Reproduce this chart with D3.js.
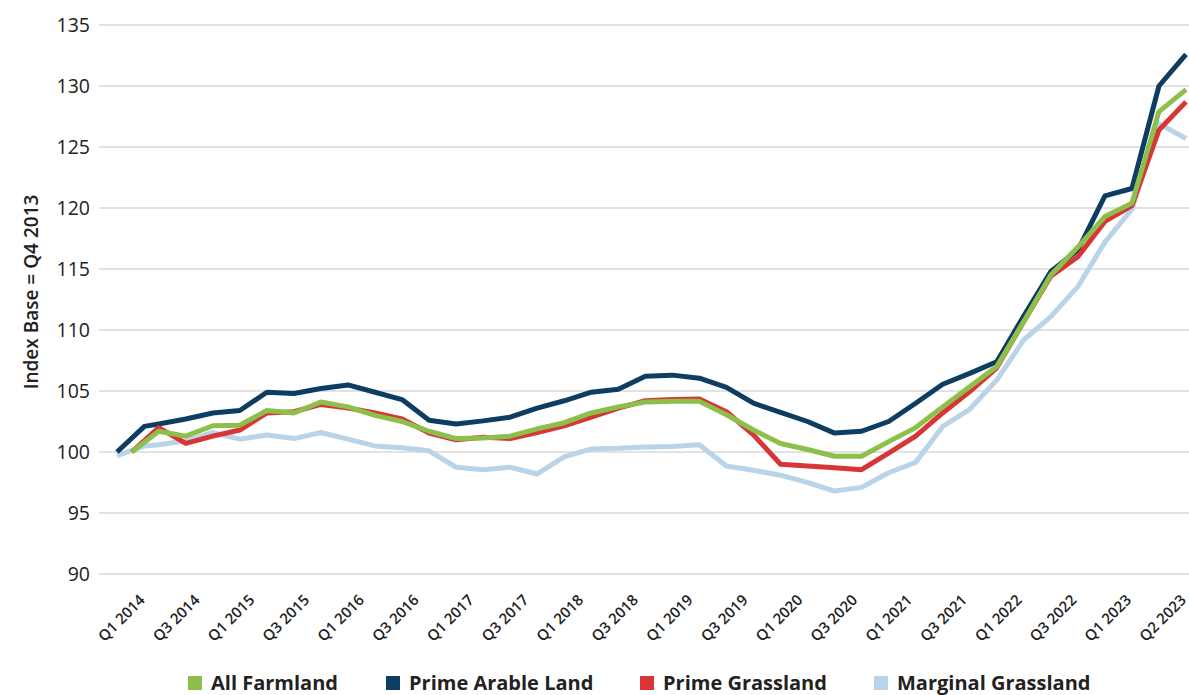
<!DOCTYPE html>
<html>
<head>
<meta charset="utf-8">
<script src="https://cdn.jsdelivr.net/npm/d3@7"></script>
<style>
	html, body { margin: 0; padding: 0; background: #fff; }
	svg { display: block; font-family: "Open Sans", sans-serif; }
</style>
</head>
<body>
<svg id="chart"></svg>
<script>
// x axis labels, one every second quarter
const tickLabels = ['Q1 2014', 'Q3 2014', 'Q1 2015', 'Q3 2015', 'Q1 2016', 'Q3 2016', 'Q1 2017',
	'Q3 2017', 'Q1 2018', 'Q3 2018', 'Q1 2019', 'Q3 2019', 'Q1 2020', 'Q3 2020', 'Q1 2021',
	'Q3 2021', 'Q1 2022', 'Q3 2022', 'Q1 2023', 'Q2 2023'];

// base quarter (Q4 2013) and Q1 2014 for the two series that start at the base
const baseQuarters = ['Q4 2013', 'Q1 2014'];
const primeArableBase = [100.0, 102.1];
const marginalGrasslandBase = [99.7, 100.5];

// survey readings (40 periods)
const allFarmland = [100.0, 101.7, 101.3, 102.15, 102.2, 103.4, 103.2, 104.1, 103.7, 103.0,
	102.5, 101.7, 101.1, 101.15, 101.3, 101.9, 102.4, 103.2, 103.7, 104.1,
	104.15, 104.15, 103.05, 101.8, 100.7, 100.2, 99.65, 99.65, 100.85, 102.0,
	103.7, 105.35, 107.0, 110.7, 114.5, 116.8, 119.3, 120.4, 127.9, 129.7];

const primeArable = [null, 102.3, 102.7, 103.2, 103.4, 104.9, 104.8, 105.2, 105.5, 104.9,
	104.3, 102.6, 102.3, 102.55, 102.85, 103.6, 104.2, 104.9, 105.15, 106.2,
	106.3, 106.05, 105.3, 104.0, 103.25, 102.5, 101.55, 101.7, 102.5, 104.0,
	105.55, 106.45, 107.4, 111.15, 114.8, 116.55, 121.0, 121.6, 130.0, 132.6];

const primeGrassland = [100.0, 102.0, 100.7, 101.3, 101.8, 103.2, 103.3, 103.9, 103.6, 103.2,
	102.7, 101.55, 101.0, 101.2, 101.1, 101.6, 102.15, 102.85, 103.6, 104.2,
	104.3, 104.35, 103.3, 101.4, 99.0, 98.85, 98.7, 98.55, 99.9, 101.3,
	103.2, 104.95, 106.9, 110.7, 114.4, 116.0, 118.9, 120.2, 126.4, 128.7];

const marginalGrassland = [null, 100.6, 100.9, 101.6, 101.05, 101.4, 101.1, 101.6, 101.05, 100.5,
	100.35, 100.1, 98.75, 98.55, 98.75, 98.2, 99.6, 100.25, 100.3, 100.4,
	100.45, 100.6, 98.85, 98.5, 98.1, 97.5, 96.8, 97.1, 98.3, 99.15,
	102.1, 103.5, 105.9, 109.2, 111.1, 113.55, 117.2, 119.9, 126.9, 125.7];

const yTicks = [90, 95, 100, 105, 110, 115, 120, 125, 130, 135];

const colors = {
	green: '#8cc04b',
	navy: '#0e3d62',
	red: '#d83636',
	lightBlue: '#b9d3e8',
	grid: '#d9d9d9',
	text: '#222'
};

const width = 1189;
const height = 695;

const svg = d3.select('#chart')
	.attr('width', width)
	.attr('height', height);

// quarter axis (category positions) and survey period axis
const xCat = d3.scaleLinear().domain([0, 39]).range([117, 1185.6]);
const xData = d3.scaleLinear().domain([0, 39]).range([131.7, 1186]);
const y = d3.scaleLinear().domain([90, 135]).range([574, 25]);

// gridlines
svg.append('g')
	.selectAll('line')
	.data(yTicks)
	.enter()
	.append('line')
	.attr('x1', 99).attr('x2', width)
	.attr('y1', d => y(d)).attr('y2', d => y(d))
	.attr('stroke', colors.grid)
	.attr('stroke-width', 1.5);

// y axis
const yAxis = svg.append('g')
	.attr('transform', 'translate(90,0)')
	.call(d3.axisLeft(y).tickValues(yTicks).tickSize(0).tickPadding(0));
yAxis.select('.domain').remove();
yAxis.selectAll('text')
	.attr('font-family', '"Open Sans", sans-serif')
	.attr('font-size', 19.5)
	.attr('fill', colors.text);

svg.append('text')
	.attr('transform', 'translate(38,292) rotate(-90)')
	.attr('text-anchor', 'middle')
	.attr('font-size', 19)
	.attr('font-weight', 600)
	.attr('fill', colors.text)
	.text('Index Base = Q4 2013');

// x axis labels
const tickIdx = d3.range(1, 40, 2);
const xAxis = svg.append('g')
	.attr('transform', 'translate(0,590)')
	.call(d3.axisBottom(xCat).tickValues(tickIdx).tickSize(0).tickPadding(0)
		.tickFormat((d, i) => tickLabels[i]));
xAxis.select('.domain').remove();
xAxis.selectAll('text')
	.attr('font-family', '"Open Sans", sans-serif')
	.attr('font-size', 15)
	.attr('font-weight', 600)
	.attr('fill', colors.text)
	.attr('text-anchor', 'end')
	.attr('dy', 0)
	.attr('transform', 'translate(1,11) rotate(-45)');

// series
const buildPoints = (values, base) => {
	let pts = [];
	if (base) {
		base.forEach((v, i) => pts.push([xCat(i), y(v)]));
	}
	values.forEach((v, i) => {
		if (v !== null) pts.push([xData(i), y(v)]);
	});
	return pts;
};

const series = [
	{ name: 'Marginal Grassland', values: marginalGrassland, base: marginalGrasslandBase, color: colors.lightBlue },
	{ name: 'Prime Arable Land', values: primeArable, base: primeArableBase, color: colors.navy },
	{ name: 'Prime Grassland', values: primeGrassland, base: null, color: colors.red },
	{ name: 'All Farmland', values: allFarmland, base: null, color: colors.green }
];

const line = d3.line()
	.x(d => d[0])
	.y(d => d[1]);

svg.append('g')
	.selectAll('path')
	.data(series)
	.enter()
	.append('path')
	.attr('d', d => line(buildPoints(d.values, d.base)))
	.attr('fill', 'none')
	.attr('stroke', d => d.color)
	.attr('stroke-width', 5)
	.attr('stroke-linejoin', 'round');

// legend
const legendItems = [
	{ name: 'All Farmland', color: colors.green, x: 188 },
	{ name: 'Prime Arable Land', color: colors.navy, x: 386 },
	{ name: 'Prime Grassland', color: colors.red, x: 640 },
	{ name: 'Marginal Grassland', color: colors.lightBlue, x: 874 }
];

const legend = svg.append('g')
	.selectAll('g')
	.data(legendItems)
	.enter()
	.append('g')
	.attr('transform', d => `translate(${d.x},676)`);

legend.append('rect')
	.attr('width', 14).attr('height', 14)
	.attr('fill', d => d.color);

legend.append('text')
	.attr('x', 23).attr('y', 14)
	.attr('font-size', 20)
	.attr('font-weight', 700)
	.attr('fill', colors.text)
	.text(d => d.name);
</script>
</body>
</html>
